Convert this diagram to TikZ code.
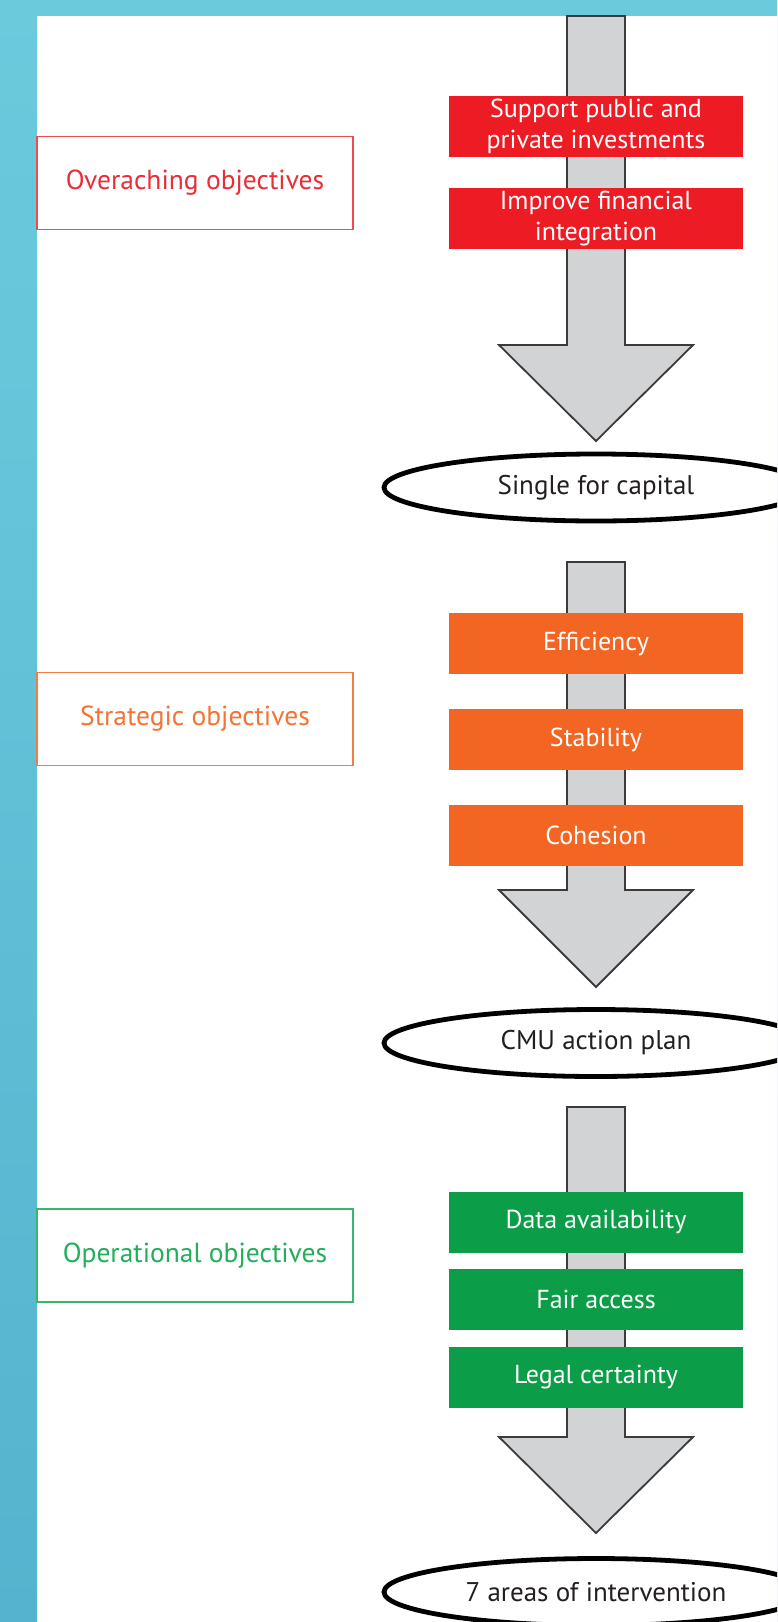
\documentclass[tikz,border=0pt]{standalone}
\usepackage{fontspec}
\setmainfont{PT Sans}
\usetikzlibrary{calc,positioning,shapes.geometric}
\definecolor{cmuRed}{HTML}{ED1C24}
\definecolor{cmuOrange}{HTML}{F26522}
\definecolor{cmuGreen}{HTML}{0B9D48}
\definecolor{cmuRedText}{HTML}{EA2E38}
\definecolor{cmuOrangeText}{HTML}{F47335}
\definecolor{cmuGreenText}{HTML}{22AE5A}
\definecolor{cmuGrey}{HTML}{D1D3D4}
\definecolor{cmuEdge}{HTML}{3B3B3D}
\definecolor{cmuInk}{HTML}{231F20}
\definecolor{cmuSkyTop}{HTML}{6BCBDD}
\definecolor{cmuSkyBot}{HTML}{54B4CF}
\tikzset{
 cmu item/.style={minimum width=294pt,minimum height=61pt,inner sep=0pt,
                  text=white,align=center,font=\fontsize{26}{31.5}\selectfont},
 cmu level/.style={draw,fill=white,line width=1.5pt,minimum width=316pt,
                   minimum height=93pt,inner sep=0pt,font=\fontsize{27.5}{32}\selectfont},
 cmu result/.style={ellipse,draw=black,fill=white,line width=4.8pt,
                    minimum width=424pt,minimum height=67pt,inner sep=0pt,
                    text=cmuInk,font=\fontsize{27}{32}\selectfont},
 cmu arrow/.style={fill=cmuGrey,draw=cmuEdge,line width=1.8pt,line join=miter}
}

\begin{document}
\begin{tikzpicture}[x=1pt,y=-1pt]
 \useasboundingbox (0,0) rectangle (777,1622);
 \clip (0,0) rectangle (777,1622);
 % backdrop and sheet
 \shade[top color=cmuSkyTop,bottom color=cmuSkyBot] (0,0) rectangle (777,1622);
 \fill[white] (36.5,15.5) rectangle (777,1622);
 % block arrows: shaft top / head base / tip
 \foreach \t/\b/\p in {16/345/441,562/890/987,1107/1437/1533}{
   \draw[cmu arrow] (567,\t)--(567,\b)--(499,\b)--(596,\p)
                    --(693,\b)--(625,\b)--(625,\t)--cycle;
 }
 % objectives on the arrows
 \node[cmu item,fill=cmuRed] (supp) at (596,126.5)
   {Support public and\\private investments};
 \node[cmu item,fill=cmuRed] (impr) at (596,218.5)
   {Improve financial\\integration};
 \foreach \n/\y/\txt in {eff/643.5/Efficiency,stab/739.5/Stability,coh/835.5/Cohesion}{
   \node[cmu item,fill=cmuOrange] (\n) at (596,\y) {\txt};
 }
 \foreach \n/\y/\txt in {data/1222/Data availability,fair/1299.5/Fair access,
                         legal/1377.5/Legal certainty}{
   \node[cmu item,fill=cmuGreen] (\n) at (596,\y) {\txt};
 }
 % outcomes
 \node[cmu result] (sfc) at (596,487.5) {Single for capital};
 \node[cmu result] (cmu) at (596,1043) {CMU action plan};
 \node[cmu result] (areas) at (596,1592) {7 areas of intervention};
 % levels
 \node[cmu level,draw=cmuRed!80,text=cmuRedText] (over) at (195,183)
   {Overaching objectives};
 \node[cmu level,draw=cmuOrange!85,text=cmuOrangeText] (strat) at (195,719)
   {Strategic objectives};
 \node[cmu level,draw=cmuGreenText!90,text=cmuGreenText] (oper) at (195,1255.5)
   {Operational objectives};
\end{tikzpicture}
\end{document}
